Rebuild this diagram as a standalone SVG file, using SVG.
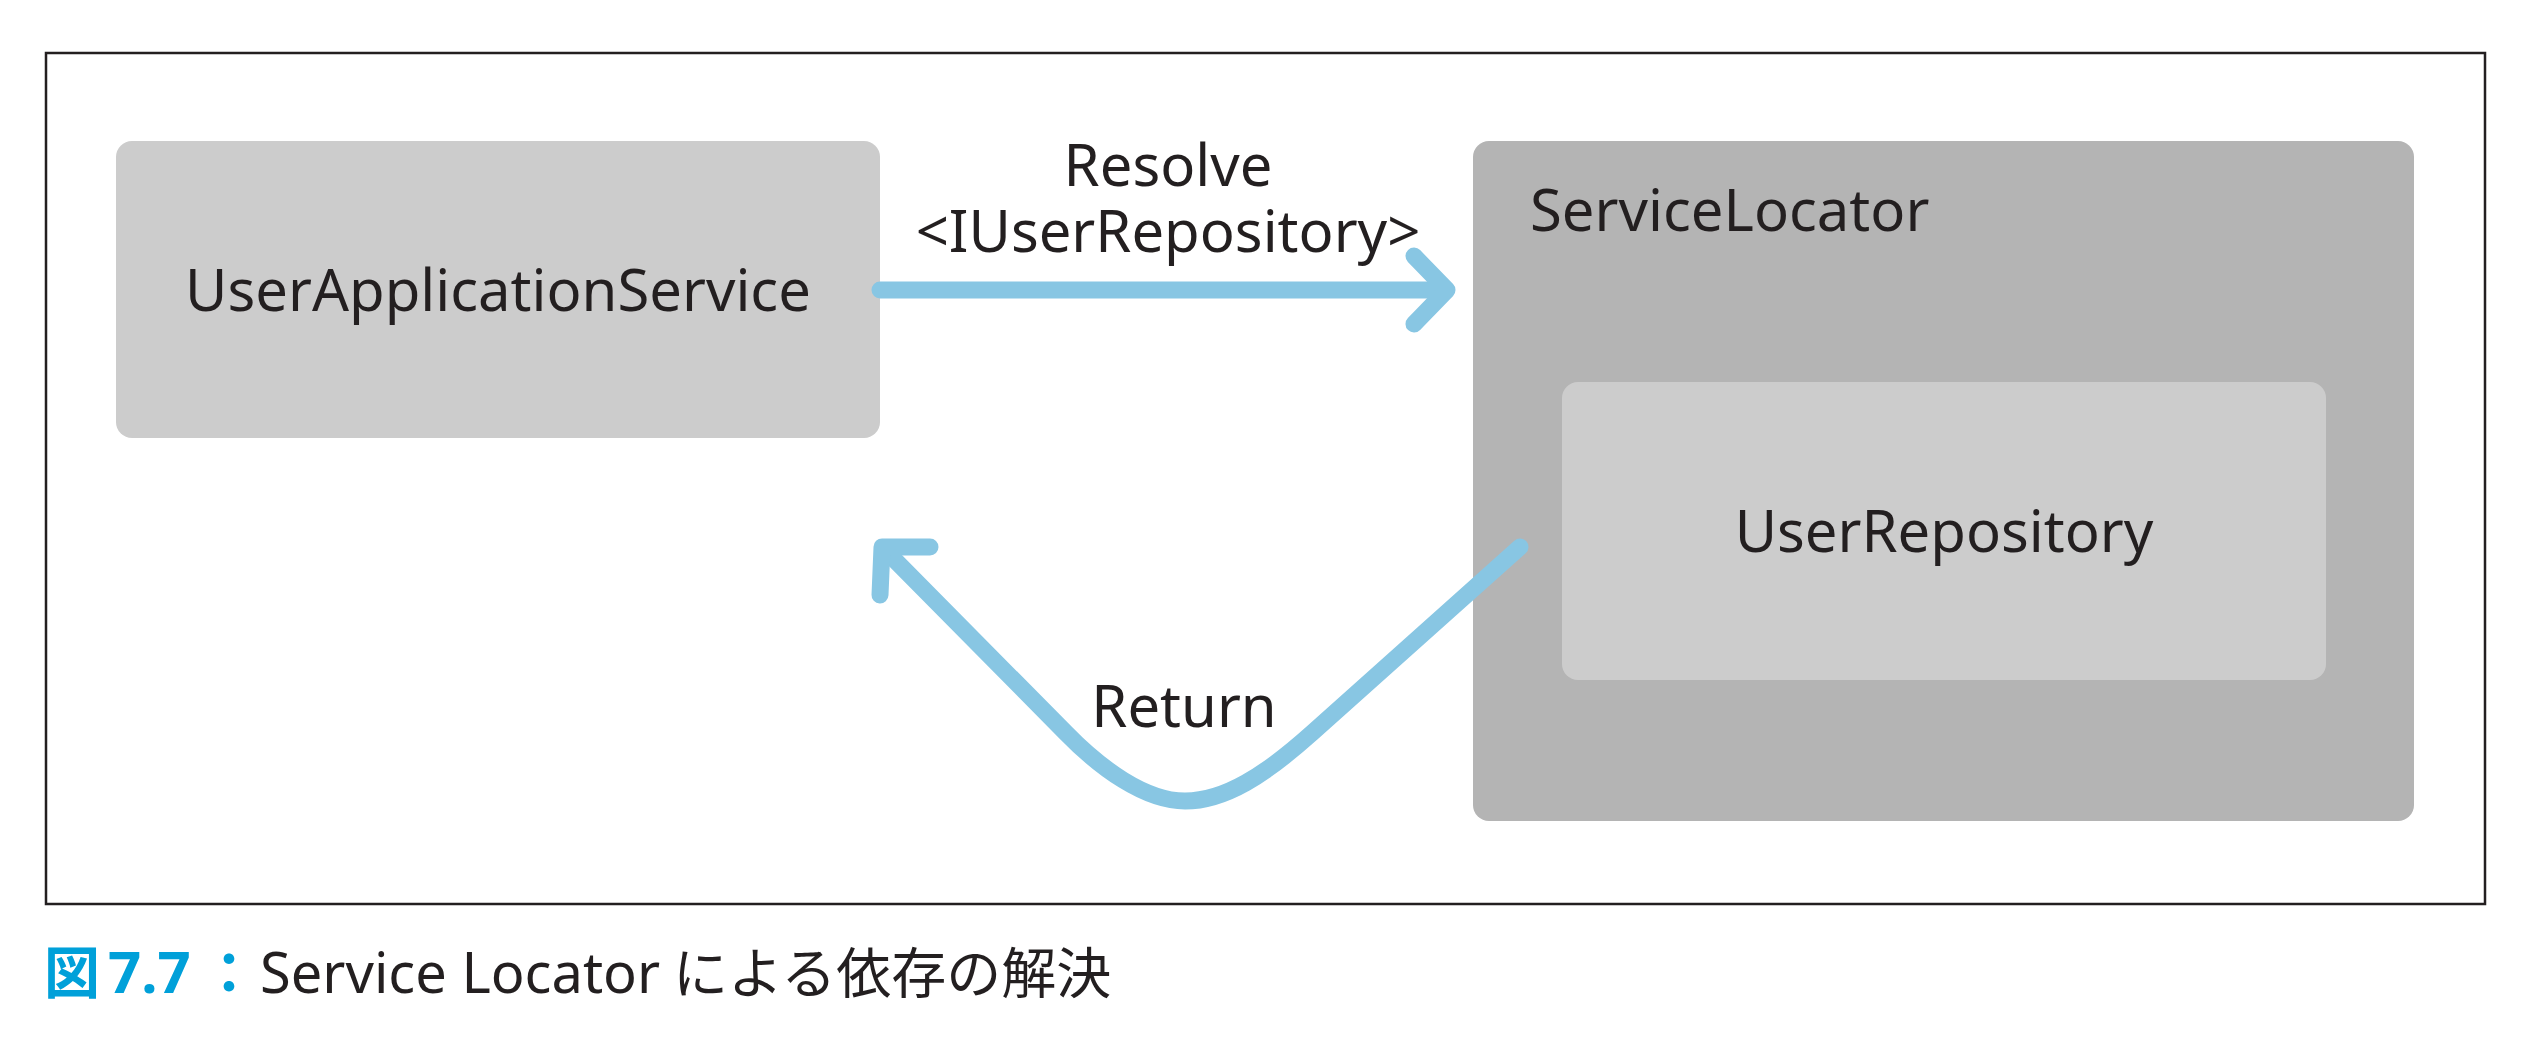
<svg xmlns="http://www.w3.org/2000/svg" width="2542" height="1056" viewBox="0 0 2542 1056">
  <style>
    .lbl { font-family: "Noto Sans", "Open Sans", "Liberation Sans", sans-serif; font-size: 58px; fill: #231f20; }
    .mid { text-anchor: middle; }
    .conn { fill: none; stroke: #88c6e3; stroke-width: 17; stroke-linecap: round; stroke-linejoin: round; }
    .capblue { fill: #00a0d9; font-weight: 700; }
    .cjk { font-family: "Noto Sans CJK JP", "Noto Sans", sans-serif; }
  </style>
  <rect width="2542" height="1056" fill="#ffffff"/>
  <g id="frame">
    <rect x="46" y="53" width="2439" height="851" fill="none" stroke="#231f20" stroke-width="2.5"/>
  </g>
  <g id="node-user-application-service">
    <rect x="116" y="141" width="764" height="297" rx="16" fill="#cccccc"/>
    <text class="lbl mid" x="498" y="311">UserApplicationService</text>
  </g>
  <g id="node-service-locator">
    <rect x="1473" y="141" width="941" height="680" rx="16" fill="#b4b4b4"/>
    <text class="lbl" x="1530" y="231">ServiceLocator</text>
  </g>
  <g id="node-user-repository">
    <rect x="1562" y="382" width="764" height="298" rx="16" fill="#cccccc"/>
    <text class="lbl mid" x="1944" y="552">UserRepository</text>
  </g>
  <g id="connectors">
    <g id="edge-resolve">
      <path class="conn" d="M880 290 L1446 290"/>
      <path class="conn" d="M1414 256 L1447 290 L1414 324"/>
      <text class="lbl mid" x="1168" y="186">Resolve<tspan x="1168" y="252">&lt;IUserRepository&gt;</tspan></text>
    </g>
    <g id="edge-return">
      <path class="conn" d="M1520 547 L1312 733 C1265 775 1225 801 1185 801 C1145 801 1100 768 1066 733 L884 549"/>
      <path class="conn" d="M930 547 L882 547 L880 595"/>
      <text class="lbl mid" x="1184" y="727">Return</text>
    </g>
  </g>
  <g id="caption">
    <text class="cjk capblue" x="44" y="993" font-size="56" font-weight="900">図</text>
    <text class="lbl capblue" x="108" y="993" font-size="58" style="fill:#00a0d9">7.7</text>
    <text class="cjk capblue" x="201" y="993" font-size="56">：</text>
    <text class="lbl" x="260" y="993" style="font-size:56px">Service Locator</text>
    <text class="cjk" x="673" y="993" font-size="55" fill="#231f20">による依存の解決</text>
  </g>
</svg>
